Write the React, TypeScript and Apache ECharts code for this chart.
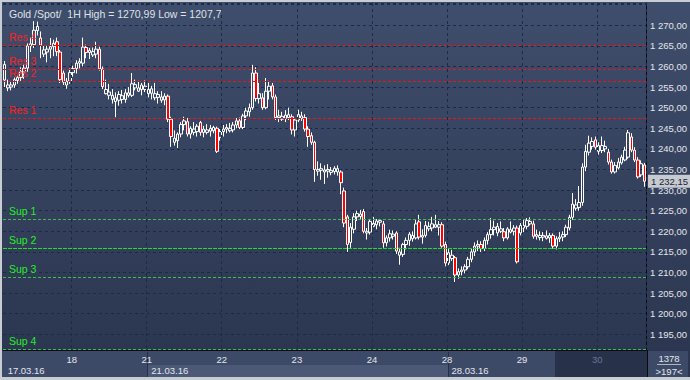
import React, { useEffect, useRef } from "react";
import * as echarts from "echarts";

const INSTRUMENT = "Gold /Spot/  1H";
const DAYS = ["17.03.16", "18.03.16", "21.03.16", "22.03.16", "23.03.16", "24.03.16", "28.03.16", "29.03.16", "30.03.16"];
const WEEK_STARTS = ["17.03.16", "21.03.16", "28.03.16"];
const DIM_DAYS = ["30.03.16"];

// hourly candles per day: [open, close, low, high]
const D17 = [
  [1256.7, 1260.5, 1255.0, 1261.3], [1254.8, 1255.5, 1254.0, 1256.8], [1255.0, 1255.5, 1254.2, 1256.5],
  [1255.5, 1256.8, 1254.8, 1257.3], [1256.6, 1257.3, 1255.8, 1257.8], [1257.3, 1258.7, 1256.5, 1259.8],
  [1258.7, 1259.6, 1257.0, 1260.5], [1259.6, 1265.0, 1258.7, 1265.6], [1265.0, 1265.5, 1263.5, 1267.0],
  [1265.3, 1268.8, 1264.5, 1270.99], [1268.7, 1269.7, 1267.5, 1270.9], [1266.9, 1265.2, 1262.0, 1268.5],
  [1263.0, 1264.0, 1262.3, 1265.2], [1263.5, 1264.2, 1261.0, 1265.0], [1264.2, 1264.8, 1262.0, 1266.9],
  [1264.8, 1265.6, 1262.5, 1266.5], [1266.0, 1263.6, 1262.5, 1267.0], [1263.5, 1256.8, 1256.0, 1264.0],
  [1258.4, 1256.2, 1255.5, 1259.0], [1255.5, 1256.4, 1254.6, 1257.2], [1256.4, 1258.5, 1255.8, 1259.5],
];
const D18 = [
  [1258.5, 1259.5, 1257.5, 1260.2], [1259.5, 1260.8, 1258.3, 1261.5], [1260.8, 1261.2, 1259.5, 1262.0],
  [1260.8, 1264.7, 1260.0, 1267.0], [1264.6, 1263.4, 1262.0, 1265.3], [1263.4, 1263.9, 1261.8, 1264.5],
  [1262.8, 1263.6, 1262.3, 1264.6], [1263.0, 1264.2, 1262.0, 1266.0], [1264.2, 1259.4, 1259.0, 1264.8],
  [1259.4, 1255.1, 1254.5, 1260.0], [1253.4, 1254.4, 1253.2, 1256.8], [1253.0, 1253.8, 1252.0, 1255.8],
  [1252.0, 1253.0, 1251.0, 1254.5], [1251.5, 1252.4, 1247.7, 1253.7], [1251.8, 1253.2, 1250.5, 1254.0],
  [1252.0, 1252.9, 1251.0, 1254.3], [1252.0, 1253.6, 1251.2, 1254.5], [1253.0, 1253.6, 1252.5, 1255.0],
  [1253.0, 1255.8, 1252.6, 1258.4], [1254.8, 1255.6, 1254.2, 1256.8], [1254.0, 1254.8, 1253.8, 1256.5],
  [1254.4, 1255.5, 1253.0, 1256.0], [1254.4, 1255.2, 1253.8, 1256.6],
];
const D21 = [
  [1253.4, 1254.4, 1252.5, 1256.0], [1253.5, 1254.6, 1252.0, 1255.3], [1252.4, 1253.4, 1251.8, 1256.0],
  [1252.5, 1253.2, 1251.0, 1254.0], [1251.8, 1252.6, 1251.2, 1254.0], [1251.9, 1252.8, 1250.6, 1253.5],
  [1252.8, 1247.2, 1246.5, 1253.2], [1247.2, 1243.0, 1240.5, 1247.8], [1241.6, 1242.6, 1240.8, 1244.5],
  [1242.0, 1243.6, 1240.2, 1244.0], [1243.6, 1245.9, 1242.8, 1246.5], [1245.9, 1246.8, 1244.5, 1247.8],
  [1246.6, 1243.6, 1243.0, 1247.5], [1243.6, 1245.0, 1242.5, 1245.5], [1244.0, 1244.8, 1243.3, 1246.5],
  [1244.2, 1245.5, 1243.0, 1246.0], [1246.4, 1244.0, 1243.2, 1246.8], [1244.0, 1244.8, 1242.8, 1245.6],
  [1244.0, 1244.6, 1243.5, 1246.0], [1244.3, 1245.0, 1243.0, 1245.8], [1244.4, 1245.2, 1243.8, 1245.6],
  [1245.0, 1239.4, 1239.0, 1245.4], [1242.8, 1244.2, 1242.0, 1244.8],
];
const D22 = [
  [1244.2, 1244.8, 1243.0, 1245.8], [1244.8, 1245.2, 1243.8, 1246.0], [1244.4, 1245.0, 1244.0, 1246.3],
  [1244.6, 1245.8, 1244.0, 1246.5], [1245.8, 1246.8, 1245.0, 1247.5], [1246.8, 1245.2, 1244.8, 1247.6],
  [1245.2, 1248.0, 1244.8, 1248.5], [1248.0, 1249.2, 1247.0, 1250.0], [1249.0, 1250.0, 1247.8, 1251.0],
  [1250.0, 1258.4, 1249.5, 1260.4], [1258.4, 1252.2, 1251.5, 1259.8], [1252.2, 1253.4, 1251.0, 1256.0],
  [1252.4, 1250.0, 1249.5, 1253.5], [1250.0, 1254.0, 1249.6, 1257.2], [1254.0, 1255.2, 1252.0, 1256.5],
  [1255.3, 1252.6, 1252.0, 1256.0], [1252.6, 1247.6, 1247.0, 1253.2], [1247.6, 1248.0, 1246.5, 1249.5],
  [1247.2, 1247.9, 1246.8, 1249.0], [1247.4, 1248.2, 1246.5, 1249.4], [1247.6, 1248.3, 1247.0, 1250.0],
  [1247.8, 1244.6, 1243.5, 1248.4], [1244.6, 1247.0, 1243.0, 1247.5],
];
const D23 = [
  [1247.0, 1248.3, 1246.5, 1249.5], [1247.4, 1248.0, 1246.8, 1249.0], [1247.6, 1244.8, 1244.2, 1248.4],
  [1244.8, 1243.0, 1240.5, 1245.5], [1243.2, 1241.6, 1241.0, 1244.0], [1241.6, 1235.0, 1232.0, 1242.0],
  [1234.6, 1235.0, 1233.5, 1237.0], [1234.8, 1235.2, 1232.5, 1236.5], [1234.4, 1234.9, 1231.5, 1236.0],
  [1234.6, 1235.0, 1233.0, 1236.3], [1234.3, 1234.8, 1233.6, 1235.6], [1234.5, 1235.3, 1233.8, 1235.8],
  [1234.4, 1235.2, 1233.5, 1236.0], [1234.4, 1231.8, 1229.0, 1234.8], [1229.8, 1222.0, 1221.0, 1230.6],
  [1223.5, 1216.8, 1215.0, 1224.0], [1217.3, 1221.0, 1216.0, 1222.0], [1220.5, 1223.5, 1219.5, 1224.4],
  [1223.5, 1224.3, 1222.5, 1225.0], [1223.6, 1224.2, 1223.0, 1225.2], [1224.8, 1220.0, 1219.5, 1225.4],
  [1219.6, 1220.0, 1218.0, 1220.8], [1219.8, 1222.4, 1219.2, 1223.0],
];
const D24 = [
  [1221.2, 1221.9, 1221.0, 1223.5], [1221.6, 1222.5, 1220.5, 1223.0], [1222.2, 1222.6, 1221.2, 1223.0],
  [1221.8, 1217.2, 1216.0, 1222.5], [1217.2, 1218.4, 1216.3, 1219.0], [1218.4, 1219.4, 1217.5, 1220.4],
  [1218.8, 1219.3, 1218.0, 1220.2], [1219.6, 1215.2, 1214.5, 1220.0], [1214.2, 1215.0, 1211.9, 1216.0],
  [1214.4, 1216.8, 1213.8, 1217.2], [1216.8, 1217.8, 1215.6, 1218.5], [1217.8, 1219.3, 1216.5, 1219.8],
  [1218.2, 1219.0, 1217.5, 1220.0], [1218.4, 1221.8, 1218.0, 1222.8], [1222.3, 1218.6, 1218.0, 1224.0],
  [1218.6, 1219.0, 1217.0, 1220.5], [1219.0, 1221.4, 1218.5, 1222.5], [1220.6, 1221.2, 1220.0, 1222.3],
  [1220.8, 1221.8, 1220.0, 1223.5], [1221.0, 1221.6, 1220.8, 1224.0], [1221.0, 1221.6, 1219.0, 1222.5],
  [1221.6, 1216.4, 1216.0, 1222.2], [1216.8, 1212.3, 1211.5, 1217.5],
];
const D28 = [
  [1212.3, 1214.8, 1211.8, 1215.8], [1213.4, 1214.2, 1212.8, 1215.5], [1213.6, 1209.4, 1207.7, 1214.0],
  [1209.4, 1210.2, 1208.5, 1211.0], [1210.2, 1210.6, 1209.3, 1211.5], [1210.6, 1211.4, 1209.8, 1212.0],
  [1211.4, 1213.2, 1210.8, 1213.8], [1213.2, 1215.0, 1212.5, 1215.8], [1215.0, 1216.4, 1214.0, 1217.3],
  [1216.4, 1216.8, 1215.2, 1217.8], [1216.8, 1215.8, 1215.0, 1217.6], [1215.8, 1217.8, 1215.2, 1218.5],
  [1217.8, 1219.2, 1216.8, 1219.8], [1219.2, 1220.4, 1218.2, 1223.2], [1220.4, 1221.0, 1219.0, 1222.6],
  [1219.6, 1221.2, 1218.8, 1222.0], [1220.0, 1220.6, 1219.6, 1222.4], [1219.9, 1218.4, 1217.6, 1220.8],
  [1218.4, 1220.6, 1218.0, 1221.0], [1219.8, 1220.4, 1219.5, 1222.4], [1220.0, 1220.8, 1219.0, 1221.5],
  [1220.8, 1212.6, 1212.2, 1221.4], [1219.6, 1221.4, 1219.0, 1222.0],
];
const D29 = [
  [1220.8, 1221.4, 1219.8, 1222.8], [1221.2, 1222.6, 1220.5, 1223.2], [1221.8, 1222.4, 1221.4, 1223.4],
  [1221.8, 1218.8, 1218.2, 1222.6], [1218.8, 1219.2, 1218.0, 1220.4], [1218.5, 1219.0, 1217.8, 1220.0],
  [1218.6, 1219.0, 1217.6, 1219.8], [1218.3, 1218.9, 1218.0, 1220.2], [1218.4, 1219.0, 1217.2, 1219.6],
  [1219.0, 1216.4, 1215.8, 1219.5], [1216.4, 1218.2, 1215.6, 1218.8], [1218.2, 1218.6, 1217.4, 1219.8],
  [1218.6, 1219.2, 1217.6, 1220.0], [1219.2, 1221.0, 1218.6, 1221.6], [1220.8, 1223.4, 1220.2, 1224.0],
  [1223.4, 1226.6, 1222.8, 1229.3], [1225.6, 1226.4, 1225.0, 1227.8], [1225.8, 1227.0, 1225.0, 1231.0],
  [1227.0, 1235.6, 1226.2, 1236.5], [1235.6, 1239.4, 1234.6, 1241.0], [1239.2, 1241.4, 1238.4, 1243.2],
  [1240.6, 1241.8, 1239.8, 1242.8], [1242.2, 1240.4, 1239.8, 1243.0],
];
const D30 = [
  [1239.4, 1240.8, 1238.6, 1241.6], [1239.6, 1240.8, 1239.0, 1243.0], [1240.0, 1240.6, 1239.2, 1242.0],
  [1239.2, 1236.8, 1236.2, 1240.0], [1236.8, 1234.4, 1234.0, 1237.4], [1234.4, 1236.0, 1234.0, 1236.8],
  [1235.4, 1236.8, 1235.0, 1237.8], [1236.6, 1238.0, 1236.2, 1238.6], [1237.3, 1239.7, 1237.0, 1240.5],
  [1238.0, 1243.9, 1237.6, 1244.6], [1242.9, 1239.7, 1239.2, 1243.8], [1239.7, 1237.3, 1236.8, 1240.4],
  [1237.3, 1233.2, 1232.8, 1238.0], [1233.7, 1236.4, 1233.2, 1237.2], [1236.1, 1232.15, 1230.8, 1236.6],
];
const DAY_BARS = [D17, D18, D21, D22, D23, D24, D28, D29, D30];

const RES_NAMES = ["Res 4", "Res 3", "Res 2", "Res 1"];
const RES_LEVELS = [1265.2, 1259.3, 1256.4, 1247.4];
const SUP_NAMES = ["Sup 1", "Sup 2", "Sup 3", "Sup 4"];
const SUP_LEVELS = [1222.9, 1215.9, 1208.8, 1191.4];

const Y_TICKS = [1195, 1200, 1205, 1210, 1215, 1220, 1225, 1230, 1235, 1240, 1245, 1250, 1255, 1260, 1265, 1270];
const Y_MIN = 1191.2;
const Y_MAX = 1275.4;
const HISTORY_COUNT = "1378";

const FONT = "'Liberation Sans', Arial, sans-serif";
const GRID_COLOR = "#1b2a4a";
const TEXT_COLOR = "#e3e6ec";

function fmtPrice(v: number): string {
  const [i, f] = v.toFixed(2).split(".");
  const ii = i.length > 3 ? i.slice(0, i.length - 3) + " " + i.slice(-3) : i;
  return ii + "," + f;
}

function buildOption() {
  const categories: string[] = [];
  const candles: number[][] = [];
  const dayStarts = new Set<number>();
  const weekStarts = new Set<number>();
  DAY_BARS.forEach((bars, d) => {
    dayStarts.add(categories.length);
    if (WEEK_STARTS.includes(DAYS[d])) weekStarts.add(categories.length);
    bars.forEach((b, k) => {
      categories.push(DAYS[d] + " " + k);
      candles.push(b);
    });
  });
  const hi = Math.max(...candles.map((c) => c[3]));
  const lo = Math.min(...candles.map((c) => c[2]));
  const last = candles[candles.length - 1][1];
  const title = `${INSTRUMENT} High = ${String(hi).replace(".", ",")} Low = ${String(lo).replace(".", ",")}`;

  const levelLine = (name: string, value: number, color: string, lineColor: string, dash: number[]) => ({
    name,
    yAxis: value,
    lineStyle: { color: lineColor, type: dash, width: 1 },
    label: {
      show: true,
      position: "insideStartTop",
      formatter: "{b}",
      color,
      fontSize: 10.5,
      fontFamily: FONT,
      distance: [6, 3],
    },
  });

  return {
    animation: false,
    backgroundColor: new echarts.graphic.LinearGradient(0, 0, 0, 1, [
      { offset: 0, color: "#3f4e6c" },
      { offset: 1, color: "#2a344e" },
    ]),
    title: {
      text: title,
      left: 4,
      top: 3,
      textStyle: { fontSize: 10.5, color: "#dfe2e8", fontWeight: "normal", fontFamily: FONT },
    },
    grid: { left: 3, right: 43, top: 3, bottom: 30 },
    xAxis: [
      {
        type: "category",
        data: categories,
        boundaryGap: true,
        z: 5,
        axisLine: { show: true, lineStyle: { color: "#0c0d12", width: 1 } },
        axisTick: { show: false },
        axisLabel: {
          interval: (i: number) => i > 0 && dayStarts.has(i),
          formatter: (v: string) => v.slice(0, 2),
          color: (v: string) => (DIM_DAYS.includes(v.split(" ")[0]) ? "#6b7891" : TEXT_COLOR),
          fontSize: 9.5,
          fontFamily: FONT,
          margin: 4,
          padding: [0, 3, 0, 0],
        },
        splitLine: {
          show: true,
          interval: (i: number) => i > 0 && dayStarts.has(i),
          lineStyle: { type: [3, 3], color: GRID_COLOR, width: 1 },
        },
      },
      {
        type: "category",
        data: categories,
        boundaryGap: true,
        position: "bottom",
        offset: 11,
        z: 5,
        axisLine: { show: false },
        axisTick: { show: false },
        splitLine: { show: false },
        axisLabel: {
          interval: (i: number) => weekStarts.has(i),
          formatter: (v: string) => v.split(" ")[0],
          align: "left",
          color: TEXT_COLOR,
          fontSize: 9.5,
          fontFamily: FONT,
          margin: 4,
          padding: [0, 0, 0, 3],
        },
      },
    ],
    yAxis: {
      type: "value",
      position: "right",
      min: Y_MIN,
      max: Y_MAX,
      splitNumber: 17,
      axisLine: { show: true, lineStyle: { color: "#0a0b10", width: 1 } },
      axisTick: { show: false },
      axisLabel: {
        customValues: Y_TICKS,
        formatter: (v: number) => fmtPrice(v),
        color: TEXT_COLOR,
        fontSize: 9.5,
        fontFamily: FONT,
        margin: 4,
      },
      splitLine: { show: true, lineStyle: { type: [3, 3], color: GRID_COLOR, width: 1 } },
    },
    series: [
      {
        type: "candlestick",
        data: candles,
        barWidth: 3,
        itemStyle: {
          color: "rgba(0,0,0,0)",
          color0: "#ff0000",
          borderColor: "#ffffff",
          borderColor0: "#ffffff",
          borderWidth: 1,
        },
        markLine: {
          silent: true,
          symbol: ["none", "none"],
          animation: false,
          data: [
            ...RES_LEVELS.map((v, i) => levelLine(RES_NAMES[i], v, "#ff1f1f", "#e01a1a", [3, 2])),
            ...SUP_LEVELS.map((v, i) =>
              levelLine(SUP_NAMES[i], v, "#25ee25", i === 1 ? "#22dd22" : "#3cbf4a", i === 1 ? [4, 1] : [3, 2])
            ),
            {
              name: "last",
              yAxis: last,
              lineStyle: { color: "rgba(0,0,0,0)", width: 1 },
              label: {
                show: true,
                position: "end",
                formatter: fmtPrice(last),
                backgroundColor: "#c6cad1",
                color: "#1c2333",
                padding: [2, 3, 1, 3],
                fontSize: 9.5,
                fontFamily: FONT,
                distance: 2,
              },
            },
          ],
        },
      },
    ],
    graphic: [
      { type: "rect", z: 0, shape: { x: 2, y: 351, width: 686, height: 26 }, style: { fill: "#3d4a67" } },
      { type: "rect", z: 0, shape: { x: 147, y: 365, width: 301, height: 12 }, style: { fill: "#4b5876" } },
      { type: "rect", z: 0, shape: { x: 555, y: 351, width: 92, height: 26 }, style: { fill: "#27314a" } },
      { type: "line", z: 1, shape: { x1: 147.5, y1: 352, x2: 147.5, y2: 377 }, style: { stroke: "#25304a", lineWidth: 1 } },
      { type: "line", z: 1, shape: { x1: 448.5, y1: 352, x2: 448.5, y2: 377 }, style: { stroke: "#25304a", lineWidth: 1 } },
      { type: "line", z: 1, shape: { x1: 647.5, y1: 350, x2: 647.5, y2: 377 }, style: { stroke: "#0a0b10", lineWidth: 1 } },
      {
        type: "text", z: 6, x: 669, y: 358,
        style: { text: HISTORY_COUNT, fill: TEXT_COLOR, fontSize: 9.5, fontFamily: FONT, textAlign: "center", textVerticalAlign: "middle" },
      },
      { type: "line", z: 6, shape: { x1: 657, y1: 364.5, x2: 681, y2: 364.5 }, style: { stroke: "#aeb4c0", lineWidth: 1 } },
      {
        type: "text", z: 6, x: 669, y: 371,
        style: { text: `>${candles.length}<`, fill: TEXT_COLOR, fontSize: 9.5, fontFamily: FONT, textAlign: "center", textVerticalAlign: "middle" },
      },
      { type: "rect", z: 10, shape: { x: 0, y: 0, width: 690, height: 2 }, style: { fill: "#c8ccd3" } },
      { type: "rect", z: 10, shape: { x: 0, y: 0, width: 2, height: 380 }, style: { fill: "#c8ccd3" } },
      { type: "rect", z: 10, shape: { x: 0, y: 377, width: 690, height: 3 }, style: { fill: "#c8ccd3" } },
    ],
  };
}

export default function App() {
  const ref = useRef<HTMLDivElement>(null);
  useEffect(() => {
    document.body.style.margin = "0";
    const chart = echarts.init(ref.current as HTMLDivElement, null, { renderer: "svg" });
    chart.setOption(buildOption() as any);
    return () => chart.dispose();
  }, []);
  return <div ref={ref} style={{ width: 690, height: 380 }} />;
}
